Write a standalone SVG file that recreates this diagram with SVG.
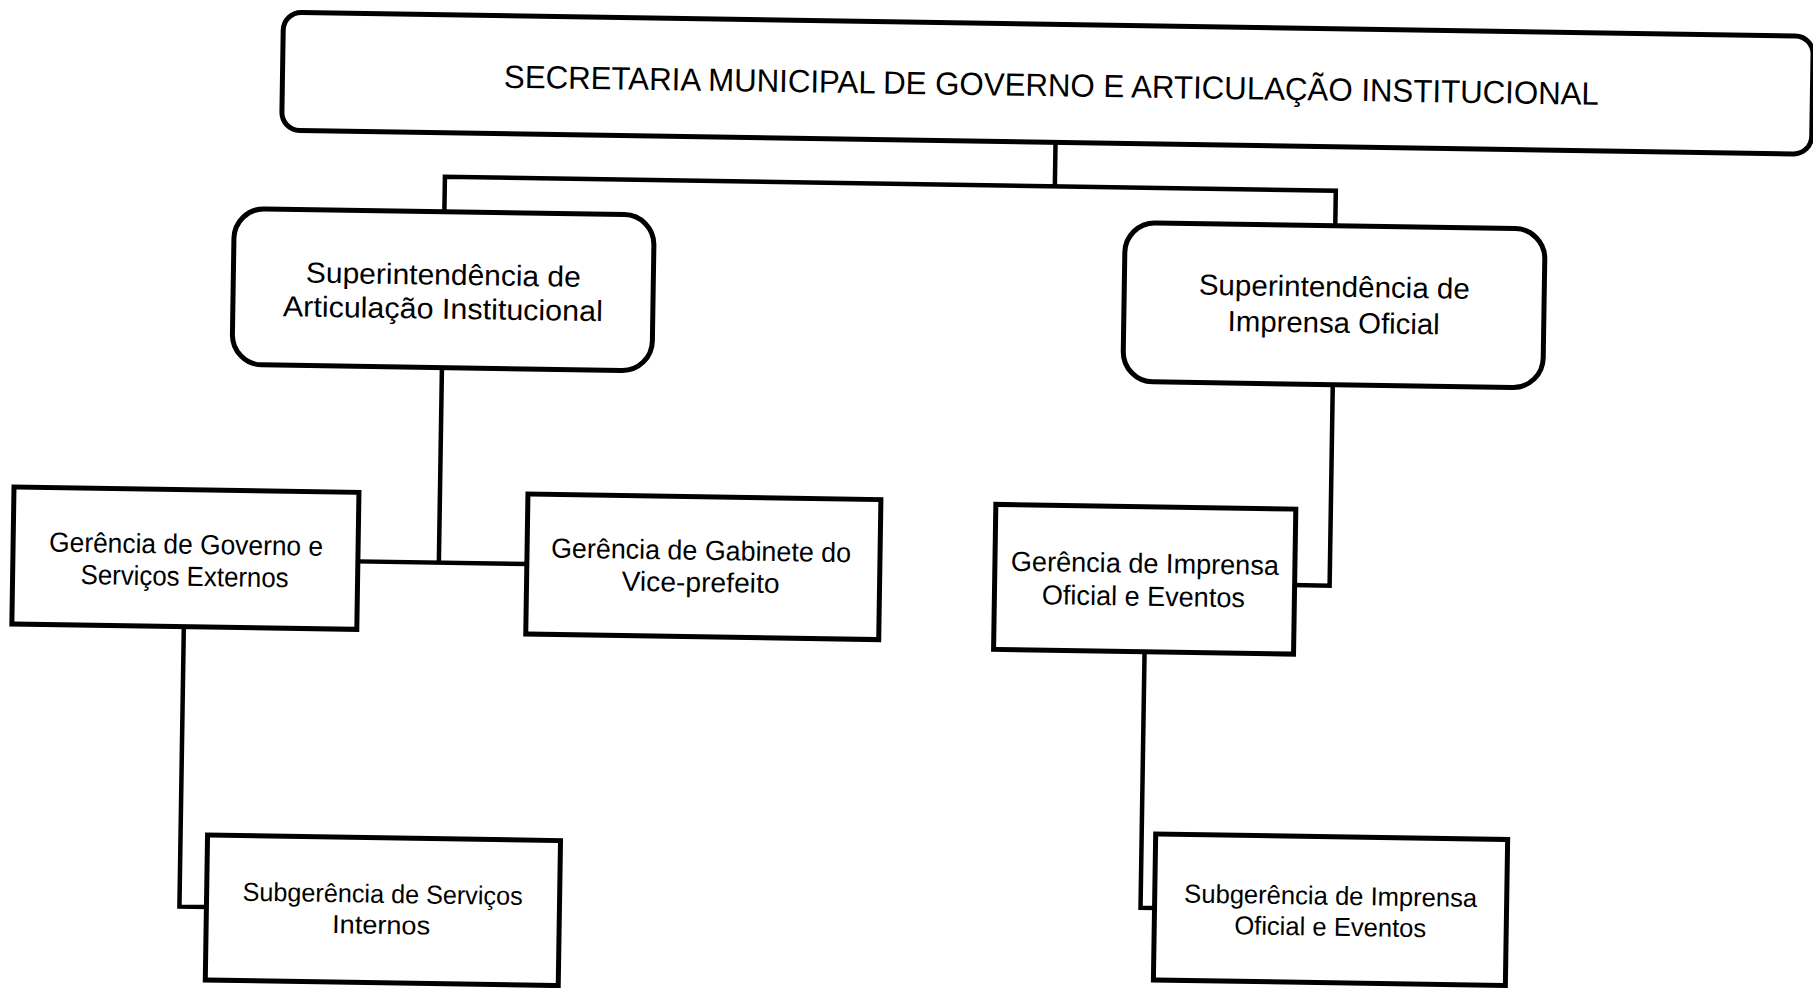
<svg xmlns="http://www.w3.org/2000/svg" width="1813" height="988" viewBox="0 0 1813 988">
<style>
.box{fill:#fff;stroke:#000;stroke-width:5}
.ln{fill:none;stroke:#000;stroke-width:4.5;stroke-linejoin:miter;stroke-linecap:square}
.t{font-family:"Liberation Sans",Arial,sans-serif;fill:#000;text-anchor:middle}
.ti{font-size:32px}
.s{font-size:29px}
.g{font-size:27.5px}
.sb{font-size:26px}
</style>
<rect x="0" y="0" width="1813" height="988" fill="#fff"/>
<g transform="rotate(0.9 906 494)">
<g id="connectors">
<path class="ln" d="M1050 140 V184 M440 219 V184 H1331 V219"/>
<path class="ln" d="M440 375 V570 M359 570 H528"/>
<path class="ln" d="M186 638 V918 H213"/>
<path class="ln" d="M1331 378 V579 H1296"/>
<path class="ln" d="M1147 648 V904 H1161"/>
</g>
<g id="secretaria">
<rect class="box" x="276" y="22" width="1530" height="118" rx="18"/>
<text class="t ti" x="1045" y="94" textLength="1095" lengthAdjust="spacingAndGlyphs">SECRETARIA MUNICIPAL DE GOVERNO E ARTICULAÇÃO INSTITUCIONAL</text>
</g>
<g id="sup-articulacao">
<rect class="box" x="230" y="219" width="420" height="156" rx="30"/>
<text class="t s" x="440" y="292" textLength="275" lengthAdjust="spacingAndGlyphs">Superintendência de</text>
<text class="t s" x="440" y="326" textLength="320" lengthAdjust="spacingAndGlyphs">Articulação Institucional</text>
</g>
<g id="sup-imprensa">
<rect class="box" x="1121" y="219" width="420" height="159" rx="30"/>
<text class="t s" x="1331" y="290" textLength="271" lengthAdjust="spacingAndGlyphs">Superintendência de</text>
<text class="t s" x="1331" y="326" textLength="212" lengthAdjust="spacingAndGlyphs">Imprensa Oficial</text>
</g>
<g id="ger-governo">
<rect class="box" x="14" y="501" width="345" height="137"/>
<text class="t g" x="187" y="565" textLength="274" lengthAdjust="spacingAndGlyphs">Gerência de Governo e</text>
<text class="t g" x="186" y="597" textLength="208" lengthAdjust="spacingAndGlyphs">Serviços Externos</text>
</g>
<g id="ger-gabinete">
<rect class="box" x="528" y="500" width="353" height="140"/>
<text class="t g" x="702" y="563" textLength="300" lengthAdjust="spacingAndGlyphs">Gerência de Gabinete do</text>
<text class="t g" x="702" y="595" textLength="158" lengthAdjust="spacingAndGlyphs">Vice-prefeito</text>
</g>
<g id="ger-imprensa">
<rect class="box" x="996" y="503" width="300" height="145"/>
<text class="t g" x="1146" y="569" textLength="268" lengthAdjust="spacingAndGlyphs">Gerência de Imprensa</text>
<text class="t g" x="1145" y="602" textLength="203" lengthAdjust="spacingAndGlyphs">Oficial e Eventos</text>
</g>
<g id="sub-servicos">
<rect class="box" x="213" y="846" width="353" height="145"/>
<text class="t sb" x="389" y="911" textLength="280" lengthAdjust="spacingAndGlyphs">Subgerência de Serviços</text>
<text class="t sb" x="388" y="942" textLength="98" lengthAdjust="spacingAndGlyphs">Internos</text>
</g>
<g id="sub-imprensa">
<rect class="box" x="1161" y="830" width="352" height="146"/>
<text class="t sb" x="1337" y="898" textLength="293" lengthAdjust="spacingAndGlyphs">Subgerência de Imprensa</text>
<text class="t sb" x="1337" y="929" textLength="192" lengthAdjust="spacingAndGlyphs">Oficial e Eventos</text>
</g>
</g>
</svg>
